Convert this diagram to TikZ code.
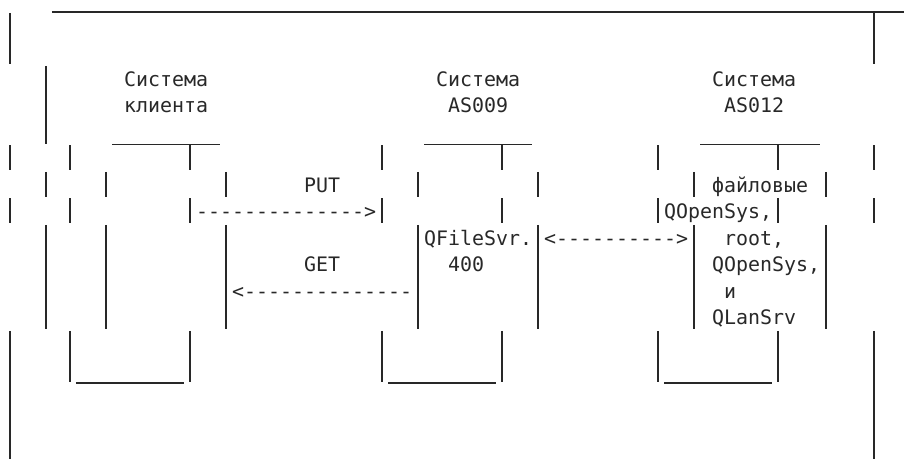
\documentclass[tikz,border=0pt]{standalone}
\usepackage{fontspec}
\newfontfamily\asciimono[Ligatures=TeXOff]{DejaVu Sans Mono}
\definecolor{artink}{RGB}{40,40,40}

\begin{document}
\begin{tikzpicture}[x=12pt,y=-26.5pt,
  bar/.style={artink,line width=1.2pt},
  txt/.style={anchor=base west,inner sep=0pt,text=artink,
    font={\asciimono\fontsize{19.93}{26.5}\selectfont}}]
  \useasboundingbox (-0.8333,-0.4528) rectangle (75.0833,16.8679);
  % top rule
  \draw[bar] (3.5,0) -- (74.5,0);
  % outer frame pieces
  \foreach \c in {0,72}
    \foreach \a/\b in {0/1,5/5,7/7,12/16}
      \draw[bar] (\c,\a+0.03) -- (\c,\b+0.97);
  \foreach \a/\b in {2/4,6/6,8/11}
    \draw[bar] (3,\a+0.03) -- (3,\b+0.97);
  % system boxes: outer walls, inner walls
  \foreach \c in {5,15,31,41,54,64}
    \foreach \a/\b in {5/5,7/7,12/13}
      \draw[bar] (\c,\a+0.03) -- (\c,\b+0.97);
  \foreach \c in {8,18,34,44,57,68}
    \foreach \a/\b in {6/6,8/11}
      \draw[bar] (\c,\a+0.03) -- (\c,\b+0.97);
  % box tops and bottoms
  \foreach \l/\r in {8.5/17.5,34.5/43.5,57.5/67.5}
    \draw[bar] (\l,5) -- (\r,5);
  \foreach \l/\r in {5.5/14.5,31.5/40.5,54.5/63.5}
    \draw[bar] (\l,14) -- (\r,14);
  % system titles
  \node[txt] (clienttop) at (9.5,2.811) {Система};
  \node[txt] (clientname) at (9.5,3.811) {клиента};
  \node[txt] (srvtop) at (35.5,2.811) {Система};
  \node[txt] (srvname) at (36.5,3.811) {AS009};
  \node[txt] (remtop) at (58.5,2.811) {Система};
  \node[txt] (remname) at (59.5,3.811) {AS012};
  % transfers
  \node[txt] (put) at (24.5,6.811) {PUT};
  \node[txt] (putarrow) at (15.5,7.811) {-------------->};
  \node[txt] (get) at (24.5,9.811) {GET};
  \node[txt] (getarrow) at (18.5,10.811) {<--------------};
  \node[txt] (linkarrow) at (44.5,8.811) {<---------->};
  % server and file systems
  \node[txt] (qfile) at (34.5,8.811) {QFileSvr.};
  \node[txt] (qfilenum) at (36.5,9.811) {400};
  \node[txt] (files) at (58.5,6.811) {файловые};
  \node[txt] (qopenA) at (54.5,7.811) {QOpenSys,};
  \node[txt] (root) at (59.5,8.811) {root,};
  \node[txt] (qopenB) at (58.5,9.811) {QOpenSys,};
  \node[txt] (andword) at (59.5,10.811) {и};
  \node[txt] (qlan) at (58.5,11.811) {QLanSrv};
\end{tikzpicture}
\end{document}
